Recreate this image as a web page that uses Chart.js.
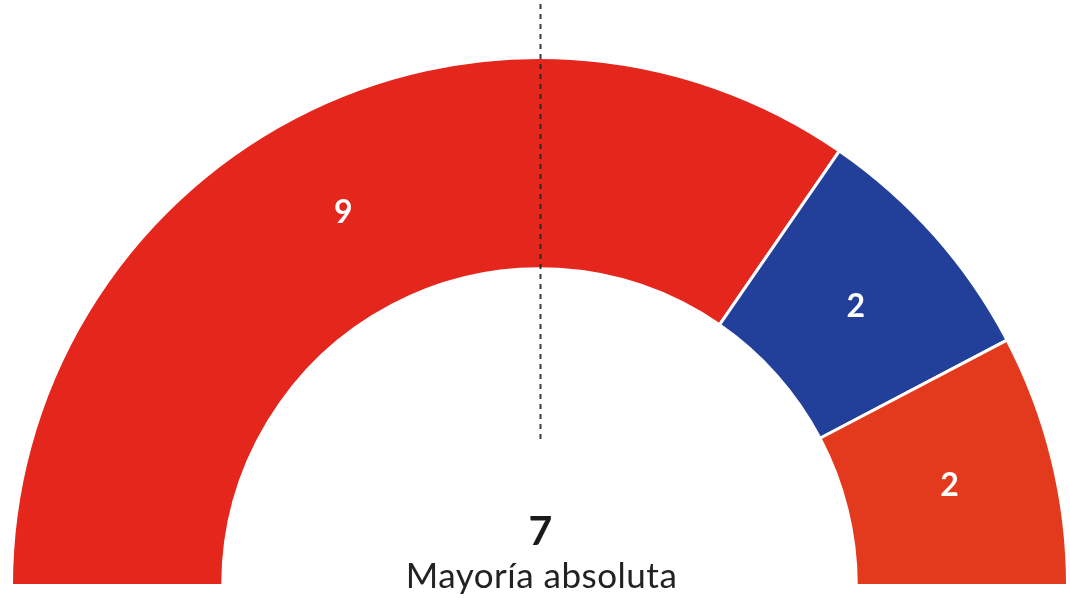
<!DOCTYPE html>
<html>
<head>
<meta charset="utf-8">
<script src="https://cdn.jsdelivr.net/npm/chart.js@4"></script>
<style>
  html, body { margin: 0; padding: 0; background: #fff; }
  #wrap { width: 1070px; height: 598px; }
</style>
</head>
<body>
<div id="wrap"><canvas id="seatsChart"></canvas></div>
<script>
const parties = ["PSOE", "PP", "Otros"];
const seats = [9, 2, 2];
const partyColors = ["#e4261d", "#22409a", "#e3391c"];
const majority = 7;
const majorityLabel = "Mayoría absoluta";

// numbers inside each arc
const arcLabels = {
  id: "arcLabels",
  afterDatasetsDraw(chart) {
    const ctx = chart.ctx;
    const meta = chart.getDatasetMeta(0);
    ctx.save();
    ctx.font = "bold 32px Lato";
    ctx.fillStyle = "#ffffff";
    ctx.textAlign = "center";
    ctx.textBaseline = "middle";
    meta.data.forEach((arc, i) => {
      const p = arc.tooltipPosition();
      ctx.fillText(String(seats[i]), p.x, p.y + 1);
    });
    ctx.restore();
  },
};

// dashed majority line + centre text
const majorityMark = {
  id: "majorityMark",
  afterDraw(chart) {
    const ctx = chart.ctx;
    const arc = chart.getDatasetMeta(0).data[0];
    const cx = arc.x, cy = arc.y;
    ctx.save();
    ctx.strokeStyle = "rgba(35,35,35,0.9)";
    ctx.lineWidth = 2;
    ctx.setLineDash([5, 5]);
    ctx.beginPath();
    ctx.moveTo(cx + 1, 4);
    ctx.lineTo(cx + 1, cy - 146);
    ctx.stroke();
    ctx.setLineDash([]);
    ctx.textAlign = "center";
    ctx.textBaseline = "alphabetic";
    ctx.fillStyle = "#1a1a1a";
    ctx.font = "bold 41px Lato";
    ctx.fillText(String(majority), cx + 1, cy - 41);
    ctx.fillStyle = "#222222";
    ctx.font = "35px Lato";
    ctx.letterSpacing = "0.5px";
    ctx.fillText(majorityLabel, cx + 2, cy + 2);
    ctx.restore();
  },
};

new Chart(document.getElementById("seatsChart"), {
  type: "doughnut",
  data: {
    labels: parties,
    datasets: [{
      data: seats,
      backgroundColor: partyColors,
      borderColor: "#ffffff",
      borderWidth: 3,
    }],
  },
  options: {
    responsive: true,
    maintainAspectRatio: false,
    animation: false,
    rotation: -90,
    circumference: 180,
    cutout: "60%",
    layout: { padding: { left: 10, right: 1, top: 56, bottom: 11 } },
    plugins: {
      legend: { display: false },
      tooltip: { enabled: false },
    },
  },
  plugins: [arcLabels, majorityMark],
});
</script>
</body>
</html>
